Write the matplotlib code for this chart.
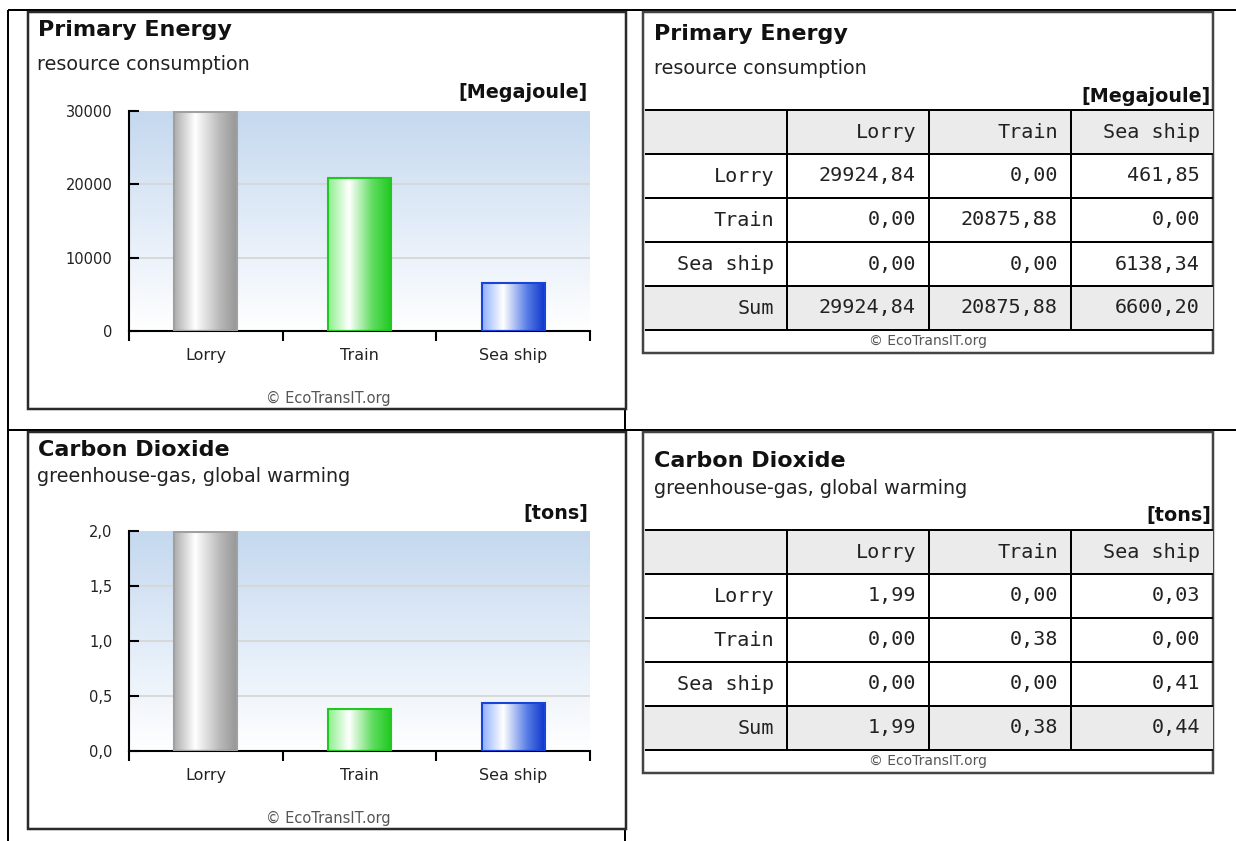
import numpy as np
import matplotlib
matplotlib.use("Agg")
import matplotlib.pyplot as plt
from matplotlib.lines import Line2D
from matplotlib.patches import Rectangle
from matplotlib.colors import LinearSegmentedColormap
from matplotlib import ticker

# transport modes (table rows / columns and bar categories)
modes = ['Lorry', 'Train', 'Sea ship']

# primary energy [MJ], rows = mode used, columns = scenario
energy_rows = [[29924.84, 0.00, 461.85],
               [0.00, 20875.88, 0.00],
               [0.00, 0.00, 6138.34]]
energy_sum = [29924.84, 20875.88, 6600.20]
energy_ticks = [0, 10000, 20000, 30000]

# carbon dioxide [t]
co2_rows = [[1.99, 0.00, 0.03],
            [0.00, 0.38, 0.00],
            [0.00, 0.00, 0.41]]
co2_sum = [1.99, 0.38, 0.44]
co2_ticks = [0.0, 0.5, 1.0, 1.5, 2.0]

W, H = 1236, 841
fig = plt.figure(figsize=(W / 100, H / 100), dpi=100)
fig.patch.set_facecolor('white')


def fline(x0, y0, x1, y1, color='black', lw=2, z=-3):
    fig.add_artist(Line2D([x0 / W, x1 / W], [1 - y0 / H, 1 - y1 / H], transform=fig.transFigure,
                          color=color, linewidth=lw * 0.72, solid_capstyle='butt', zorder=z))


def frect(x0, y0, x1, y1, fc='white', ec='none', lw=0, z=-2):
    fig.add_artist(Rectangle((x0 / W, 1 - y1 / H), (x1 - x0) / W, (y1 - y0) / H, transform=fig.transFigure,
                             facecolor=fc, edgecolor=ec, linewidth=lw * 0.72, zorder=z))


def ftext(x, y, s, **kw):
    kw.setdefault('va', 'center')
    fig.text(x / W, 1 - y / H, s, **kw)


def comma(v, digits):
    return f"{v:.{digits}f}".replace('.', ',')


# page grid
fline(8, 10, 1236, 10)
fline(8, 430, 1236, 430)
fline(8, 10, 8, 841)
fline(625, 10, 625, 841)

bg_cmap = LinearSegmentedColormap.from_list('bg', ['#ffffff', '#e2ecf8', '#c4d8ee'])
bar_cmaps = [
    LinearSegmentedColormap.from_list('g', [(0, '#acacac'), (0.33, '#ffffff'), (0.72, '#b8b8b8'), (1, '#959595')]),
    LinearSegmentedColormap.from_list('t', [(0, '#8cf08c'), (0.33, '#ffffff'), (0.7, '#5fdc5f'), (1, '#1ec81e')]),
    LinearSegmentedColormap.from_list('s', [(0, '#8fb0ff'), (0.33, '#ffffff'), (0.7, '#5a7fe6'), (1, '#0a32c8')]),
]
bar_edges = ['#a0a0a0', '#22c822', '#1a44d8']


def draw_chart(top, title, subtitle, sub_y, unit, values, ticks, digits):
    frect(28, top, 626, top + 397, fc='white', ec='#2a2a2a', lw=2.5)
    ftext(38, top + 18, title, fontsize=16, fontweight='bold', color='#111111')
    ftext(37, top + sub_y, subtitle, fontsize=13.8, color='#222222')
    ftext(588, top + 81, unit, fontsize=13.8, fontweight='bold', color='#111111', ha='right')
    ftext(328, top + 386, '\u00a9 EcoTransIT.org', fontsize=10.5, color='#555555', ha='center')

    ax = fig.add_axes([129 / W, 1 - (top + 319) / H, 461 / W, 220 / H])
    ax.set_facecolor('none')
    ax.imshow(np.linspace(0, 1, 256).reshape(-1, 1), extent=[0, 1, 0, 1], transform=ax.transAxes,
              aspect='auto', cmap=bg_cmap, origin='lower', zorder=0)

    x = np.arange(len(modes))
    bars = ax.bar(x, values, width=0.41, color='none', linewidth=1.5, zorder=3)
    grad = np.linspace(0, 1, 256).reshape(1, -1)
    for p, cm, ec in zip(bars.patches, bar_cmaps, bar_edges):
        p.set_edgecolor(ec)
        x0, w, h = p.get_x(), p.get_width(), p.get_height()
        ax.imshow(grad, extent=[x0, x0 + w, 0, h], aspect='auto', cmap=cm, zorder=2,
                  interpolation='bilinear')

    ax.set_xlim(-0.5, 2.5)
    ax.set_ylim(0, ticks[-1])
    ax.set_xticks(x, modes)
    ax.set_xticks([-0.5, 0.5, 1.5, 2.5], minor=True)
    ax.tick_params(axis='x', which='major', length=0, pad=12, labelsize=11.5, labelcolor='#222222')
    ax.tick_params(axis='x', which='minor', length=7.5, width=1.5, direction='out')
    ax.set_yticks(ticks)
    ax.yaxis.set_major_formatter(ticker.FuncFormatter(
        lambda v, pos: comma(v, digits) if digits else f"{v:.0f}"))
    ax.tick_params(axis='y', direction='in', length=7.5, width=1.5, pad=12, labelsize=10.5,
                   labelcolor='#222222')
    ax.yaxis.grid(True, color='#d6d6d6', linewidth=1.3)
    for s in ['top', 'right']:
        ax.spines[s].set_visible(False)
    for s in ['left', 'bottom']:
        ax.spines[s].set_linewidth(1.5)


def draw_table(top, title, title_y, subtitle, unit, rows, sums):
    frect(643, top, 1213, top + 341, fc='white', ec='#444444', lw=2.5)
    ftext(654, top + title_y, title, fontsize=16, fontweight='bold', color='#111111')
    ftext(654, top + 57, subtitle, fontsize=13.8, color='#222222')
    ftext(1211, top + 84, unit, fontsize=13.8, fontweight='bold', color='#111111', ha='right')

    cols = [645, 787, 929, 1071, 1213]
    lines_y = [top + 98 + 44 * i for i in range(6)]
    frect(645, lines_y[0], 1213, lines_y[1], fc='#ebebeb', z=-1)
    frect(645, lines_y[4], 1213, lines_y[5], fc='#ebebeb', z=-1)
    for y in lines_y:
        fline(645, y, 1213, y, z=-0.5)
    for cx in cols[1:-1]:
        fline(cx, lines_y[0], cx, lines_y[-1], z=-0.5)

    mono = dict(family='DejaVu Sans Mono', fontsize=14.5, color='#222222', ha='right')
    for j, m in enumerate(modes):
        ftext(cols[j + 2] - 13, lines_y[0] + 22, m, **mono)
    labels = modes + ['Sum']
    for i, lab in enumerate(labels):
        yc = lines_y[i + 1] + 22
        ftext(cols[1] - 13, yc, lab, **mono)
        vals = rows[i] if i < len(rows) else sums
        for j, v in enumerate(vals):
            ftext(cols[j + 2] - 13, yc, comma(v, 2), **mono)
    ftext(928, top + 329, '\u00a9 EcoTransIT.org', fontsize=10, color='#555555', ha='center')


draw_chart(12, 'Primary Energy', 'resource consumption', 53, '[Megajoule]', energy_sum, energy_ticks, 0)
draw_chart(432, 'Carbon Dioxide', 'greenhouse-gas, global warming', 44, '[tons]', co2_sum, co2_ticks, 1)
draw_table(12, 'Primary Energy', 22, 'resource consumption', '[Megajoule]', energy_rows, energy_sum)
draw_table(432, 'Carbon Dioxide', 29, 'greenhouse-gas, global warming', '[tons]', co2_rows, co2_sum)

fig.savefig('out.png', dpi=100)
